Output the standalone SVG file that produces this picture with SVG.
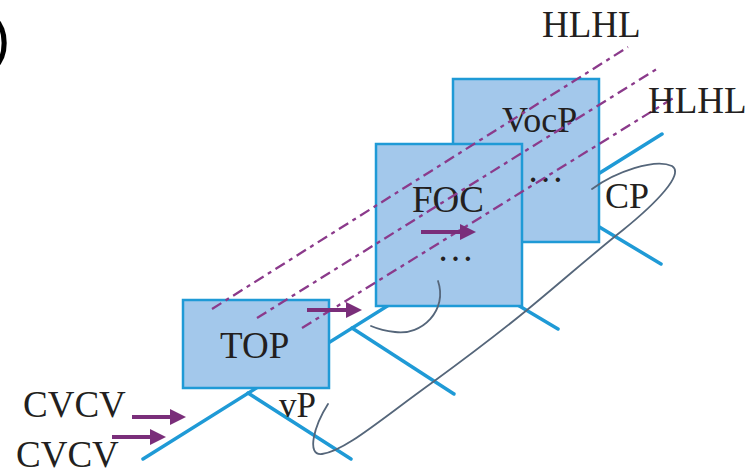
<svg xmlns="http://www.w3.org/2000/svg" width="752" height="474" viewBox="0 0 752 474">
<style>
.br{stroke:#1f9ad6;stroke-width:3.5;fill:none;stroke-linecap:round}
.box{fill:#a3c8eb;stroke:#1f9ad6;stroke-width:2.5}
.las{stroke:#55667a;stroke-width:1.8;fill:none;stroke-linecap:round}
.dash{stroke:#8b3a8b;stroke-width:2.3;fill:none;stroke-dasharray:11 5 4 5}
.arr{stroke:#7a2e7a;stroke-width:4;fill:none}
.t{font-family:"Liberation Serif","Times New Roman",serif;fill:#231f20;font-size:37px}
</style>
<defs>
<marker id="ah" viewBox="0 0 16 16" refX="6" refY="8" markerWidth="16" markerHeight="16" markerUnits="userSpaceOnUse" orient="auto">
<path d="M0,0 L16,8 L0,16 z" fill="#7a2e7a"/>
</marker>
</defs>
<text x="-9" y="58" style="font-family:'Liberation Sans',Arial,sans-serif;font-size:58px;fill:#000">)</text>
<g id="connectors">
<line class="br" x1="143" y1="459" x2="662" y2="134"/>
<line class="br" x1="248" y1="393" x2="351" y2="459"/>
<line class="br" x1="352" y1="328" x2="454" y2="394"/>
<line class="br" x1="452" y1="266" x2="558" y2="329"/>
<line class="br" x1="556" y1="201" x2="661" y2="264"/>
</g>
<g id="VocP">
<rect class="box" x="453" y="79" width="146" height="163"/>
<text class="t" x="502" y="132" style="font-size:36px">VocP</text>
<text class="t" x="527" y="182">…</text>
</g>
<g id="FOC">
<rect class="box" x="376" y="144" width="146" height="162"/>
<text class="t" x="412" y="212">FOC</text>
<text class="t" x="437" y="261">…</text>
</g>
<g id="TOP">
<rect class="box" x="183" y="300" width="146" height="88"/>
<text class="t" x="220" y="358">TOP</text>
</g>
<g id="lasso">
<path class="las" d="M328,404 C314,426 306,456 322,454 C345,451 380,420 433,382 C470,355 500,332 527,310 C560,283 595,252 623,230 C655,204 685,174 672,166 C655,158 615,172 592,189"/>
<path class="las" d="M438,281 C448,310 422,336 395,332 C385,331 378,329 371,326"/>
</g>
<g id="tiers">
<line class="dash" x1="212" y1="309" x2="628" y2="47"/>
<line class="dash" x1="257" y1="318" x2="660" y2="67"/>
<line class="dash" x1="302" y1="328" x2="675" y2="97"/>
<text class="t" x="542" y="37">HLHL</text>
<text class="t" x="648" y="113">HLHL</text>
</g>
<g id="labels">
<text class="t" x="605" y="208" style="font-size:36px">CP</text>
<text class="t" x="279" y="417" style="font-size:35px">vP</text>
<text class="t" x="23" y="417">CVCV</text>
<text class="t" x="16" y="467">CVCV</text>
</g>
<g id="arrows">
<line class="arr" x1="132" y1="417" x2="176" y2="417" marker-end="url(#ah)"/>
<line class="arr" x1="112" y1="437" x2="156" y2="437" marker-end="url(#ah)"/>
<line class="arr" x1="307" y1="310" x2="352" y2="310" marker-end="url(#ah)"/>
<line class="arr" x1="421" y1="232" x2="466" y2="232" marker-end="url(#ah)"/>
</g>
</svg>
